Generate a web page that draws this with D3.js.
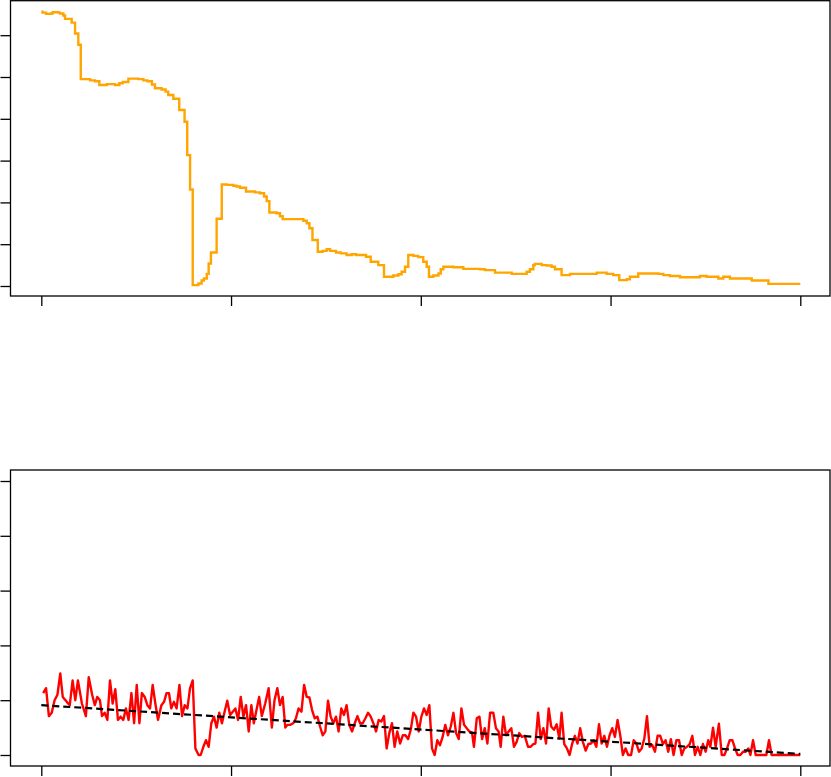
<!DOCTYPE html>
<html>
<head>
<meta charset="utf-8">
<script src="https://cdn.jsdelivr.net/npm/d3@7"></script>
<style>
html,body{margin:0;padding:0;background:#fff;}
svg{display:block;}
</style>
</head>
<body>
<svg id="chart" width="831" height="777"></svg>
<script>
// ---- data ----
const xTicks = [0, 100, 200, 300, 400];
const topYTicks = [0, 1, 2, 3, 4, 5, 6];
const bottomYTicks = [0, 1, 2, 3, 4, 5];

// top panel: step series (orange)
const topX = [0,0.7,2.5,4.9,6.0,9.0,9.9,11.6,12.5,16.0,17.8,19.5,20.8,25.7,28.3,30.6,34.5,38.8,41.1,42.9,45.9,51.1,53.8,55.9,58.3,59.9,63.4,65.5,66.9,69.6,72.7,75.5,76.9,78.4,79.8,81.0,82.8,84.5,85.7,87.2,88.2,89.4,92.4,95.1,97.7,101.2,102.9,104.7,107.9,112.6,115.2,117.4,118.8,120.2,124.0,125.8,127.2,136.5,138.1,139.9,141.3,142.9,145.7,148.3,150.4,152.2,155.3,157.8,160.9,163.6,165.9,171.1,173.6,177.6,180.6,185.5,188.2,189.9,191.7,193.4,196.1,198.7,201.3,203.1,204.3,206.6,209.3,210.5,211.9,217.2,222.4,231.2,233.8,239.1,247.9,255.8,257.5,259.3,260.1,263.7,266.3,268.9,270.7,274.2,278.6,292.7,297.9,301.4,304.6,308.5,310.2,314.6,325.2,327.8,331.3,336.6,347.1,350.6,356.8,359.4,362.9,369.9,374.4,383.2,400];
const topY = [6.56,6.54,6.51,6.52,6.55,6.54,6.52,6.47,6.39,6.30,6.04,5.77,4.95,4.92,4.90,4.81,4.83,4.81,4.85,4.88,4.96,4.95,4.92,4.90,4.82,4.73,4.70,4.65,4.57,4.48,4.21,3.93,3.13,2.31,0.02,0.02,0.06,0.13,0.18,0.29,0.54,0.80,1.61,2.43,2.42,2.40,2.38,2.35,2.26,2.24,2.22,2.14,2.03,1.76,1.74,1.67,1.60,1.60,1.56,1.50,1.38,1.10,0.82,0.84,0.88,0.84,0.80,0.78,0.74,0.76,0.74,0.70,0.58,0.50,0.22,0.25,0.28,0.34,0.46,0.74,0.72,0.69,0.58,0.46,0.22,0.25,0.30,0.40,0.46,0.45,0.41,0.40,0.38,0.32,0.29,0.34,0.40,0.50,0.53,0.50,0.49,0.46,0.40,0.26,0.29,0.32,0.29,0.26,0.14,0.16,0.22,0.30,0.29,0.26,0.24,0.21,0.24,0.22,0.18,0.22,0.18,0.18,0.13,0.05,0.05];

// bottom panel: noisy series (red)
const redX = [1,2.5,4,5.5,7,8.5,10,11.3,13.4,15,16.5,17.9,19.3,21.4,23.5,25,26.8,28.2,29.5,30.9,32,33.4,34.8,36.2,37.6,39,40.4,41.8,43.2,44.6,46,47.5,48.9,50.3,51.7,53,54.5,55.9,57.3,58.7,60.1,61.5,63.3,64.7,66,67.3,68.5,69.9,71.3,72.8,74.2,75.6,77,78.4,79.8,81.2,82.9,84,85.4,86.8,88.2,89.6,91,92.4,93.8,95.2,96.6,98,99.5,100.9,102.3,103.7,105.1,106.5,107.9,109.3,110.7,112,113.4,114.8,116.2,118,119.8,121.5,122.9,124.4,125.8,127.2,128.6,129.7,131.1,132.8,134.2,135.6,137.1,138.5,139.9,141.3,142.7,144.1,145.5,146.9,148.3,149.7,151.1,152.5,153.9,155.3,156.7,158.1,159.5,160.9,162.3,163.8,165.2,166.6,168,169.4,170.8,172.2,173.6,175,176.4,177.8,179.2,180.6,182,183.4,184.8,186.2,187.6,189.1,190.5,191.9,193.3,194.7,196.1,197.5,198.9,200.3,201.7,203.1,204.5,205.9,207.3,208.7,210.1,211.5,212.9,214.3,215.8,217.2,218.6,220,221.4,222.8,224.2,225.6,227,228,229.5,230.9,232.3,233.7,235.1,236.5,238.2,239.6,241,242.1,243.5,244.9,246.3,247.7,249.1,250.5,251.9,253.3,254.8,256.5,257.9,259.3,260.4,261.8,263.2,264.6,266,267.4,268.7,270.2,271.6,273,274.2,275.6,277,278.4,279.8,281.2,282.6,284,285.4,286.9,288.3,289.7,291.1,292.5,293.9,295.3,296.7,298.1,299.5,300.9,302.3,303.7,305.1,306.5,307.9,309.3,310.8,312.2,313.6,315,316.4,317.8,319.2,320.6,322,323.4,324.8,326.2,327.6,329,330.4,331.8,333.2,334.7,336.1,337.5,338.9,340.3,341.7,343.1,344.5,345.9,347.3,348.7,350.1,351.5,352.6,354,355.4,357.1,358.6,360,361.4,362.8,364.2,365.6,367,368.4,369.8,371.2,372.6,373.7,375.1,376.5,382.1,383.5,384.9,400];
const redY = [1.13,1.22,0.71,0.77,1.0,1.1,1.49,1.06,0.97,0.91,1.36,1.0,1.36,0.94,0.71,1.42,1.1,0.91,1.06,1.0,0.71,0.77,0.64,1.36,0.94,1.2,0.64,0.70,0.64,0.85,0.64,1.13,0.58,1.28,0.58,1.13,1.06,0.91,0.85,1.28,0.94,0.64,0.91,0.97,1.13,1.13,0.85,0.97,0.85,1.28,0.71,0.91,0.85,1.22,1.36,0.12,0,0,0.15,0.27,0.15,0.58,0.70,0.5,0.77,0.58,0.79,0.99,0.73,0.79,0.85,0.64,1.06,0.70,0.91,0.43,0.91,0.58,0.82,1.06,0.71,0.94,1.22,0.5,1.0,1.22,0.91,1.06,0.5,0.55,0.55,0.58,0.67,0.85,0.79,1.28,1.06,1.05,0.82,0.67,0.70,0.52,0.36,0.43,0.99,0.70,0.58,0.70,0.43,0.85,0.73,0.91,0.55,0.43,0.58,0.71,0.58,0.58,0.67,0.77,0.70,0.58,0.43,0.64,0.61,0.71,0.12,0.40,0.58,0.15,0.43,0.21,0.36,0.36,0.29,0.46,0.77,0.70,0.43,0.70,0.85,0.73,0.91,0.12,0,0.27,0.18,0.33,0.55,0.36,0.52,0.77,0.40,0.29,0.85,0.55,0.49,0.43,0.41,0.15,0.67,0.70,0.29,0.49,0.21,0.77,0.77,0.49,0.43,0.15,0.70,0.36,0.43,0.49,0.15,0.24,0.40,0.33,0.35,0.15,0.15,0.20,0.21,0.77,0.29,0.49,0.21,0.85,0.52,0.46,0.56,0.30,0.77,0.20,0.12,0,0.21,0.35,0.21,0.49,0.24,0.08,0.20,0.21,0.27,0.15,0.56,0.21,0.35,0.15,0.36,0.49,0.33,0.64,0.36,0,0.12,0,0,0.27,0.21,0.06,0.12,0.30,0.71,0.15,0.18,0.06,0.35,0.35,0.20,0.27,0.06,0.29,0,0.27,0.27,0,0.12,0.15,0.20,0.35,0,0.15,0,0.20,0.06,0.27,0.15,0.50,0.15,0.57,0,0,0.12,0.27,0.27,0.12,0,0,0.06,0.06,0.12,0,0.27,0,0,0.27,0,0];

// bottom panel: trend line (dashed black), endpoints
const trendX = [0, 400];
const trendY = [0.91, 0.02];

// ---- drawing ----
const svg = d3.select("#chart");
const boxLeft = 10.5, boxRight = 830.5;
const x = d3.scaleLinear().domain([0, 400]).range([41.3, 800.3]);

function panel(top, bottom, yDomain, yRange, yTicks) {
  const y = d3.scaleLinear().domain(yDomain).range(yRange);
  const g = svg.append("g");
  g.append("rect")
    .attr("x", boxLeft).attr("y", top)
    .attr("width", boxRight - boxLeft - 0.5).attr("height", bottom - top)
    .attr("fill", "none").attr("stroke", "#000").attr("stroke-width", 1.3);
  const xa = g.append("g").attr("transform", `translate(0,${bottom})`)
    .call(d3.axisBottom(x).tickValues(xTicks).tickSize(10).tickSizeOuter(0).tickFormat(""));
  xa.select(".domain").remove();
  xa.selectAll("line").attr("stroke", "#000").attr("stroke-width", 1.3);
  const ya = g.append("g").attr("transform", `translate(${boxLeft},0)`)
    .call(d3.axisLeft(y).tickValues(yTicks).tickSize(10).tickSizeOuter(0).tickFormat(""));
  ya.select(".domain").remove();
  ya.selectAll("line").attr("stroke", "#000").attr("stroke-width", 1.3);
  return {g, y};
}

// top panel
const P1 = panel(0.7, 296, [0, 6], [286, 35.2], topYTicks);
const topData = topX.map((d, i) => [d, topY[i]]);
P1.g.append("path")
  .datum(topData)
  .attr("fill", "none")
  .attr("stroke", "#FFA500")
  .attr("stroke-width", 2.4)
  .attr("d", d3.line().curve(d3.curveStepAfter).x(d => x(d[0])).y(d => P1.y(d[1])));

// bottom panel
const P2 = panel(470, 766, [0, 5], [755, 481], bottomYTicks);
const redData = redX.map((d, i) => [d, redY[i]]);
P2.g.append("path")
  .datum(redData)
  .attr("fill", "none")
  .attr("stroke", "#FF0000")
  .attr("stroke-width", 2.4)
  .attr("stroke-linejoin", "round")
  .attr("d", d3.line().x(d => x(d[0])).y(d => P2.y(d[1])));
const trendData = trendX.map((d, i) => [d, trendY[i]]);
P2.g.append("path")
  .datum(trendData)
  .attr("fill", "none")
  .attr("stroke", "#000")
  .attr("stroke-width", 2.2)
  .attr("stroke-dasharray", "7,4")
  .attr("d", d3.line().x(d => x(d[0])).y(d => P2.y(d[1])));
</script>
</body>
</html>
